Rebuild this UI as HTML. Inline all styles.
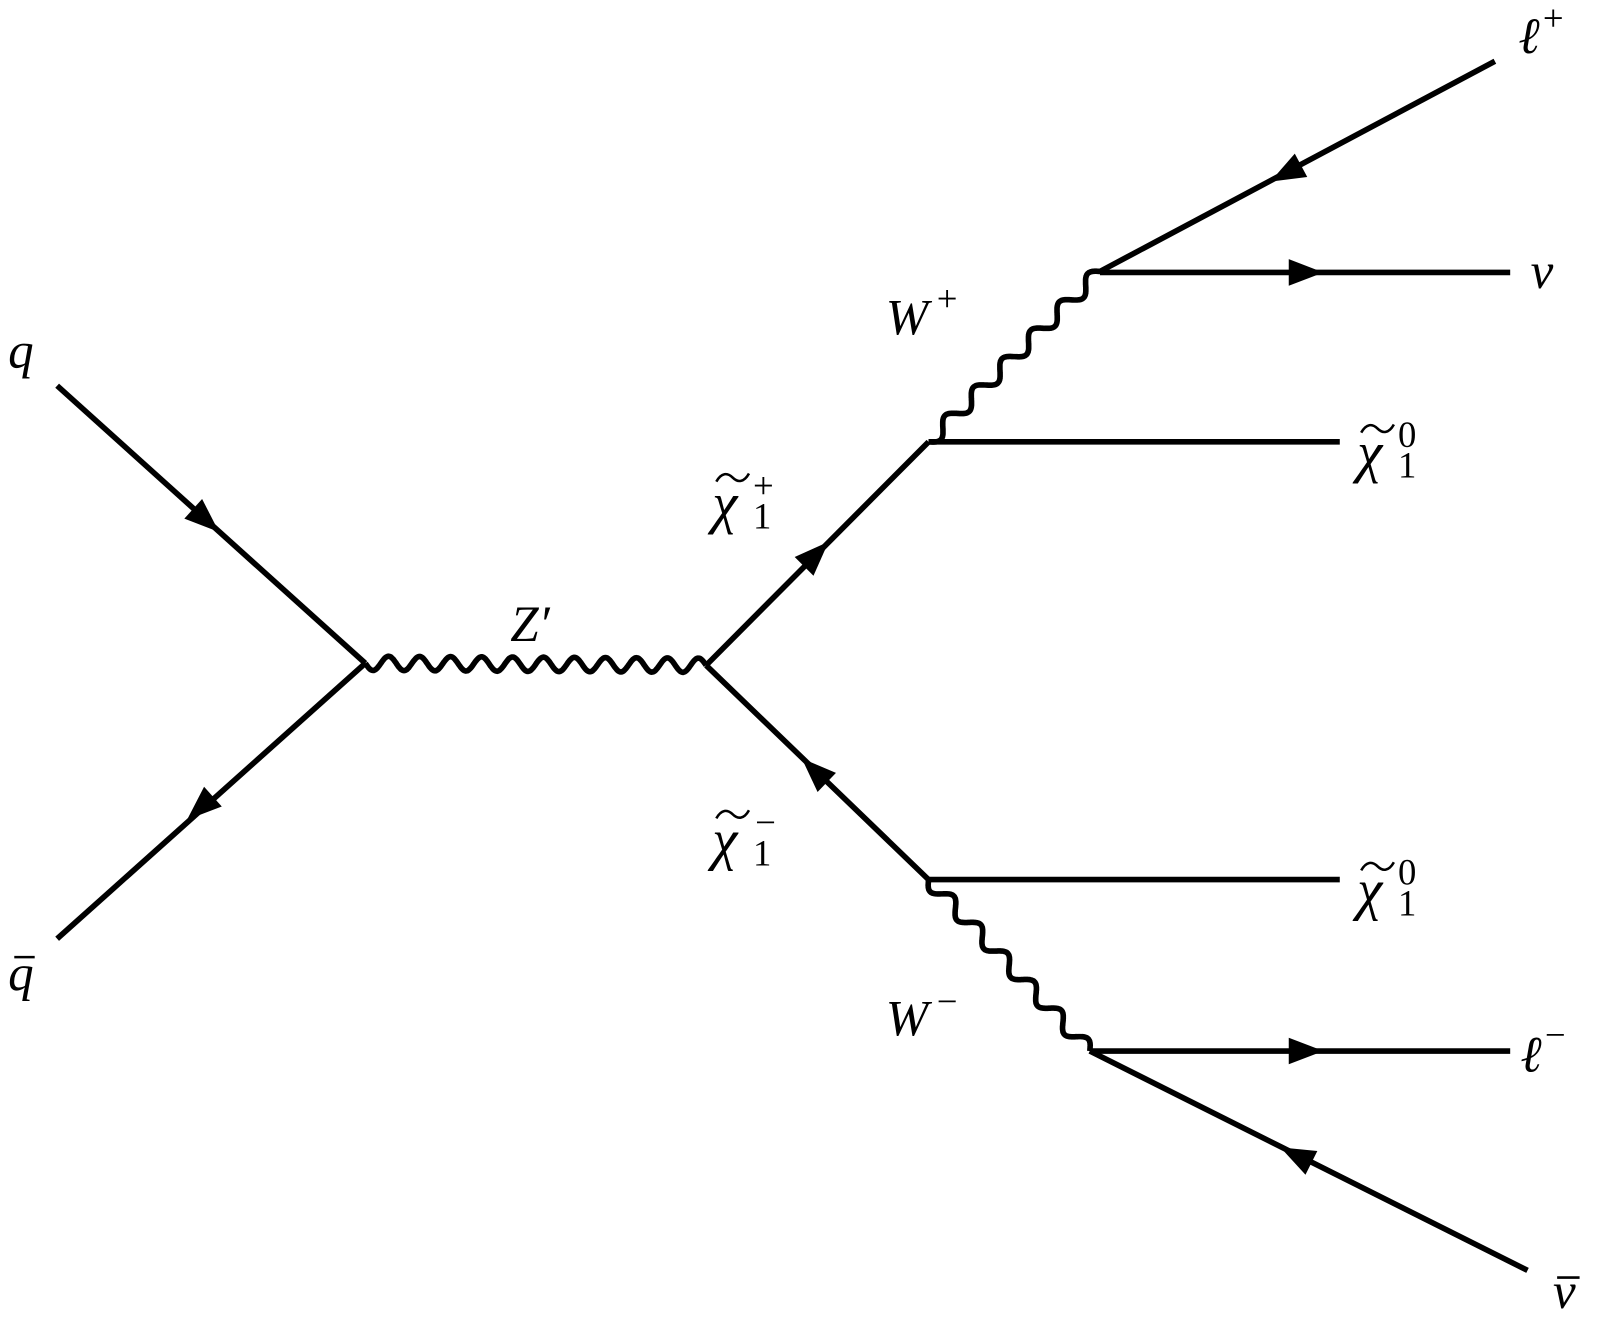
<!DOCTYPE html>
<html><head><meta charset="utf-8"><style>
html,body{margin:0;padding:0;background:#fff;overflow:hidden;width:1600px;height:1318px;}
svg{display:block;position:absolute;left:0;top:0;}
.i{font-family:"Liberation Serif","DejaVu Serif",serif;font-style:italic;}
.n{font-family:"Liberation Serif","DejaVu Serif",serif;font-style:normal;}
</style></head><body>
<svg width="1600" height="1318" viewBox="0 0 1600 1318" xmlns="http://www.w3.org/2000/svg">
<g transform="scale(1.0204)">
<g stroke="#000" stroke-width="5.5" fill="none" stroke-linecap="butt">
<line x1="56" y1="378" x2="358" y2="650"/>
<line x1="358" y1="650" x2="56" y2="920"/>
<line x1="692" y1="652" x2="910" y2="433"/>
<line x1="692" y1="652" x2="910" y2="862"/>
<line x1="910" y1="433" x2="1313" y2="433"/>
<line x1="910" y1="862" x2="1313" y2="862"/>
<line x1="1078" y1="266" x2="1465" y2="60"/>
<line x1="1078" y1="267" x2="1480" y2="267"/>
<line x1="1068" y1="1030" x2="1480" y2="1030"/>
<line x1="1068" y1="1030" x2="1497" y2="1245"/>
<path id="w1"/><path id="w2"/><path id="w3"/>
</g>
<g stroke="#000" stroke-width="2.5" fill="none">
<line x1="14" y1="938" x2="34" y2="938"/>
<line x1="1526" y1="1252" x2="1548" y2="1252"/>
<path d="M702,472 c5,-9 11,-9 16,-4 s11,5 16,-4"/>
<path d="M702,802 c5,-9 11,-9 16,-4 s11,5 16,-4"/>
<path d="M1334,424 c5,-9 11,-9 16,-4 s11,5 16,-4"/>
<path d="M1334,853 c5,-9 11,-9 16,-4 s11,5 16,-4"/>
</g>
<g id="arr" fill="#000"></g>
<g fill="#000">
<text class="i" x="8" y="360" font-size="50">q</text>
<text class="i" x="8" y="970" font-size="50">q</text>
<text class="i" x="500" y="628" font-size="50">Z′</text>
<text class="i" x="698" y="512" font-size="56">χ</text><text class="n" x="738" y="518" font-size="36">1</text><text class="n" x="738" y="488" font-size="36">+</text>
<text class="i" x="698" y="842" font-size="56">χ</text><text class="n" x="738" y="848" font-size="36">1</text><text class="n" x="740" y="818" font-size="36">−</text>
<text class="i" x="868" y="328" font-size="50">W</text><text class="n" x="918" y="305" font-size="36">+</text>
<text class="i" x="868" y="1015" font-size="50">W</text><text class="n" x="918" y="993" font-size="36">−</text>
<text class="i" x="1330" y="462" font-size="56">χ</text><text class="n" x="1370" y="468" font-size="36">1</text><text class="n" x="1370" y="438" font-size="36">0</text>
<text class="i" x="1330" y="891" font-size="56">χ</text><text class="n" x="1370" y="897" font-size="36">1</text><text class="n" x="1370" y="867" font-size="36">0</text>
<text class="i" x="1488" y="52" font-size="50">ℓ</text><text class="n" x="1512" y="30" font-size="36">+</text>
<text class="i" x="1500" y="282" font-size="50">ν</text>
<text class="i" x="1490" y="1050" font-size="50">ℓ</text><text class="n" x="1514" y="1026" font-size="36">−</text>
<text class="i" x="1522" y="1282" font-size="50">ν</text>
</g>
</g>
</svg>
<script>
function wave(id,x1,y1,x2,y2,n,a){
 var dx=x2-x1,dy=y2-y1,L=Math.hypot(dx,dy),ux=dx/L,uy=dy/L,px=-uy,py=ux,d="";
 var N=400;for(var i=0;i<=N;i++){var t=i/N,s=a*Math.sin(2*Math.PI*n*t);
 var x=x1+dx*t+px*s,y=y1+dy*t+py*s;d+=(i?"L":"M")+x.toFixed(1)+","+y.toFixed(1);}
 document.getElementById(id).setAttribute("d",d);}
wave("w1",358,650,692,652,11,7);
wave("w2",910,433,1078,266,6,7);
wave("w3",910,862,1068,1030,6,7);
function arrow(cx,cy,x1,y1,x2,y2){
 var dx=x2-x1,dy=y2-y1,L=Math.hypot(dx,dy),ux=dx/L,uy=dy/L,px=-uy,py=ux,h=34,w=13;
 var tx=cx+ux*h/2,ty=cy+uy*h/2,bx=cx-ux*h/2,by=cy-uy*h/2;
 var p=document.createElementNS("http://www.w3.org/2000/svg","polygon");
 p.setAttribute("points",tx+","+ty+" "+(bx+px*w)+","+(by+py*w)+" "+(bx-px*w)+","+(by-py*w));
 document.getElementById("arr").appendChild(p);}
arrow(202,510,56,378,358,650);
arrow(196,792,358,650,56,920);
arrow(800,543,692,652,910,433);
arrow(798,755,910,862,692,652);
arrow(1260,170,1465,60,1078,266);
arrow(1280,267,1078,267,1480,267);
arrow(1280,1030,1068,1030,1480,1030);
arrow(1270,1132,1497,1245,1068,1030);
</script>
</body></html>
